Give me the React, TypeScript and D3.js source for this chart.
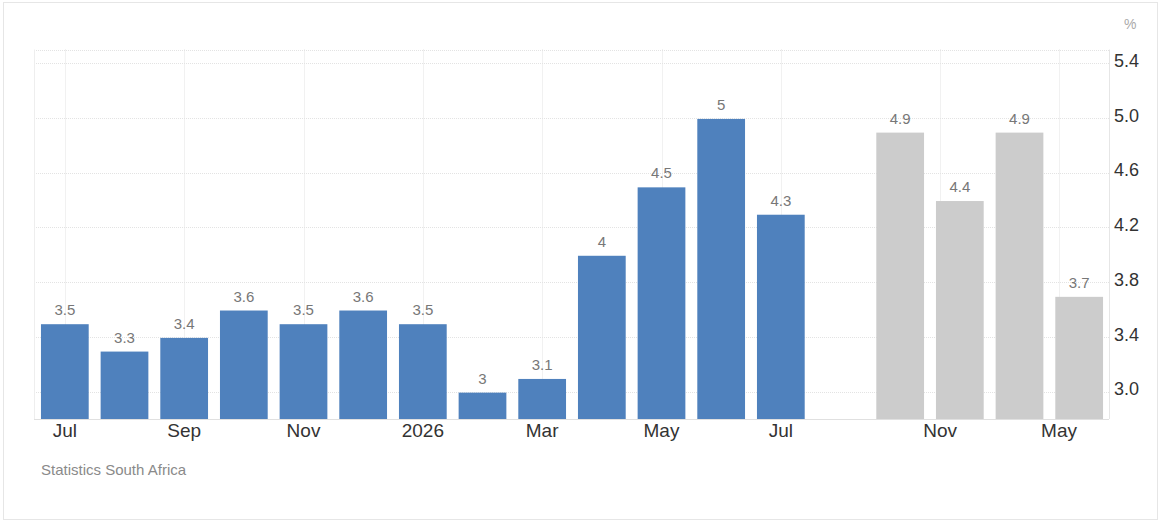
import React, { useEffect, useRef } from 'react';
import * as d3 from 'd3';

// monthly actuals, then one empty month, then quarterly forecasts
const periods = [
  '2025-07', '2025-08', '2025-09', '2025-10', '2025-11', '2025-12',
  '2026-01', '2026-02', '2026-03', '2026-04', '2026-05', '2026-06', '2026-07',
  '2026-08',
  '2026-09', '2026-12', '2027-03', '2027-06',
];
const actual: (number | null)[] = [3.5, 3.3, 3.4, 3.6, 3.5, 3.6, 3.5, 3, 3.1, 4, 4.5, 5, 4.3, null, null, null, null, null];
const forecast: (number | null)[] = [null, null, null, null, null, null, null, null, null, null, null, null, null, null, 4.9, 4.4, 4.9, 3.7];

const tickDates = ['2025-07', '2025-09', '2025-11', '2026-01', '2026-03', '2026-05', '2026-07', '2026-11', '2027-05'];
const tickLabels = ['Jul', 'Sep', 'Nov', '2026', 'Mar', 'May', 'Jul', 'Nov', 'May'];
const yTicks = [3.0, 3.4, 3.8, 4.2, 4.6, 5.0, 5.4];

const W = 1161;
const H = 525;
const FONT = '"Liberation Sans", Arial, sans-serif';

export default function App() {
  const svgRef = useRef<SVGSVGElement>(null);

  useEffect(() => {
    if (!svgRef.current) return;
    const svg = d3.select(svgRef.current);
    svg.selectAll('*').remove();

    const left = 35, right = 1109, top = 49.5, bottom = 419;

    const x = d3.scaleBand<string>()
      .domain(periods)
      .range([left, right])
      .paddingInner(0.2)
      .paddingOuter(0.1);

    const y = d3.scaleLinear().domain([2.8, 5.5]).range([bottom, top]);

    // ordinal-style positions: interpolate a date between neighbouring points
    const parse = d3.timeParse('%Y-%m');
    const times = periods.map(p => parse(p)!.getTime());
    const center = (i: number) => x(periods[i])! + x.bandwidth() / 2;
    const posOf = (d: string) => {
      const t = parse(d)!.getTime();
      const i = d3.bisectRight(times, t) - 1;
      if (times[i] === t || i >= times.length - 1) return center(i);
      const f = (t - times[i]) / (times[i + 1] - times[i]);
      return center(i) + f * x.step();
    };

    // outer frame
    svg.append('rect')
      .attr('x', 3.5).attr('y', 2.5)
      .attr('width', W - 7).attr('height', 517)
      .attr('fill', '#fff')
      .attr('stroke', '#e6e6e6');

    // grid
    const grid = svg.append('g');
    grid.selectAll('.hg')
      .data([...yTicks, 5.5])
      .enter()
      .append('line')
      .attr('x1', left - 1).attr('x2', right)
      .attr('y1', d => Math.round(y(d)) + 0.5)
      .attr('y2', d => Math.round(y(d)) + 0.5)
      .attr('stroke', '#e3e3e3')
      .attr('stroke-dasharray', '1,1');

    grid.selectAll('.vg')
      .data(tickDates)
      .enter()
      .append('line')
      .attr('x1', d => Math.round(posOf(d)) + 0.5)
      .attr('x2', d => Math.round(posOf(d)) + 0.5)
      .attr('y1', top).attr('y2', bottom)
      .attr('stroke', '#e3e3e3')
      .attr('stroke-dasharray', '1,1');

    // plot edges
    svg.append('line')
      .attr('x1', left - 0.5).attr('x2', left - 0.5)
      .attr('y1', top).attr('y2', bottom)
      .attr('stroke', '#eeeeee');
    svg.append('line')
      .attr('x1', right + 0.5).attr('x2', right + 0.5)
      .attr('y1', top).attr('y2', bottom)
      .attr('stroke', '#e6e6e6');
    svg.append('line')
      .attr('x1', left - 1).attr('x2', right)
      .attr('y1', bottom + 0.5).attr('y2', bottom + 0.5)
      .attr('stroke', '#e0e0e0');

    // bars
    const drawBars = (vals: (number | null)[], color: string) => {
      const rows = periods.map((p, i) => ({ p, v: vals[i] })).filter(d => d.v !== null) as { p: string; v: number }[];
      svg.append('g').selectAll('rect')
        .data(rows)
        .enter()
        .append('rect')
        .attr('x', d => x(d.p)!)
        .attr('y', d => y(d.v) + 1)
        .attr('width', x.bandwidth())
        .attr('height', d => bottom - y(d.v) - 1)
        .attr('fill', color);

      svg.append('g').selectAll('text')
        .data(rows)
        .enter()
        .append('text')
        .attr('x', d => x(d.p)! + x.bandwidth() / 2)
        .attr('y', d => y(d.v) - 8)
        .attr('text-anchor', 'middle')
        .style('font-family', FONT)
        .style('font-size', '15px')
        .style('fill', '#777777')
        .text(d => String(d.v));
    };
    drawBars(actual, '#4f81bd');
    drawBars(forecast, '#cccccc');

    // x labels
    svg.append('g').selectAll('text')
      .data(tickDates)
      .enter()
      .append('text')
      .attr('x', d => posOf(d))
      .attr('y', 437)
      .attr('text-anchor', 'middle')
      .style('font-family', FONT)
      .style('font-size', '19px')
      .style('fill', '#333')
      .text((d, i) => tickLabels[i]);

    // y labels on the right
    svg.append('g').selectAll('text')
      .data(yTicks)
      .enter()
      .append('text')
      .attr('x', 1114)
      .attr('y', d => y(d) - 2.5)
      .attr('dy', '0.35em')
      .style('font-family', FONT)
      .style('font-size', '18px')
      .style('fill', '#333')
      .text(d => d.toFixed(1));

    svg.append('text')
      .attr('x', 1124)
      .attr('y', 29)
      .style('font-family', FONT)
      .style('font-size', '14px')
      .style('fill', '#aaa')
      .text('%');

    svg.append('text')
      .attr('x', 41)
      .attr('y', 475)
      .style('font-family', FONT)
      .style('font-size', '15px')
      .style('fill', '#8a8a8a')
      .text('Statistics South Africa');
  }, []);

  return (
    <svg
      ref={svgRef}
      width={W}
      height={H}
      style={{ position: 'absolute', left: 0, top: 0, display: 'block' }}
    />
  );
}
